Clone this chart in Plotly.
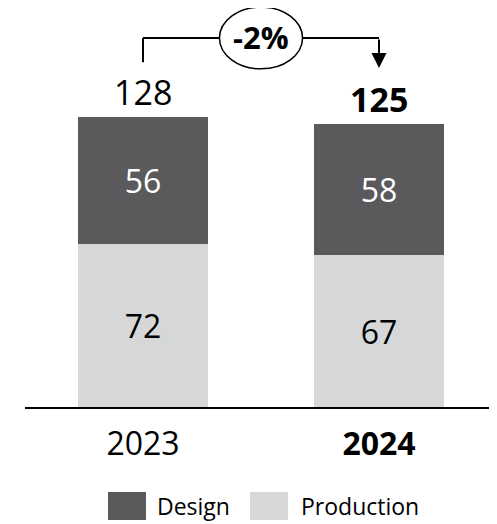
import plotly.graph_objects as go

years = ["2023", "2024"]
year_labels = ["2023", "<b>2024</b>"]
production = [72, 67]
design = [56, 58]
totals = [p + d for p, d in zip(production, design)]
series_names = ["Design", "Production"]

DARK = "#5a5a5c"
LIGHT = "#d6d7d9"
FONT = "Open Sans"

# page has an 8px body margin; figure sized to fit window
OFF = 8
W, H = 497 - OFF, 524 - OFF
ML, MR, MT = 25 - OFF, 0, 0
BASE = 407 - OFF
MB = H - BASE
PX_PER_UNIT = 2.268
plot_h = BASE - MT
y_max = plot_h / PX_PER_UNIT

x = [0, 1]

fig = go.Figure()
fig.add_trace(go.Bar(
    x=x, y=production, name="Production", marker=dict(color=LIGHT, line=dict(width=0)),
    text=[str(v) for v in production], textposition="inside", insidetextanchor="middle",
    textfont=dict(color="black", size=32, family=FONT), constraintext="none",
    showlegend=False,
))
fig.add_trace(go.Bar(
    x=x, y=design, name="Design", marker=dict(color=DARK, line=dict(width=0)),
    text=[str(v) for v in design], textposition="inside", insidetextanchor="middle",
    textfont=dict(color="white", size=32, family=FONT), constraintext="none",
    showlegend=False,
))

# totals
for i, t in enumerate(totals):
    fig.add_annotation(x=x[i], y=t, text=(f"<b>{t}</b>" if i == 1 else str(t)),
                       showarrow=False, yanchor="middle", yshift=25,
                       font=dict(size=34, family=FONT, color="black"))

# change bracket
pct = round((totals[1] - totals[0]) / totals[0] * 100)
top = max(totals) + 34.7
fig.add_shape(type="line", xref="x", yref="y", x0=x[0], x1=x[0], y0=totals[0] + 24, y1=top,
              line=dict(color="black", width=2))
fig.add_shape(type="line", xref="x", yref="y", x0=x[0], x1=x[1], y0=top, y1=top,
              line=dict(color="black", width=2))
fig.add_annotation(x=x[1], y=totals[1] + 24.5, ax=x[1], ay=top, xref="x", yref="y",
                   axref="x", ayref="y", showarrow=True, arrowhead=2, arrowsize=1.5,
                   arrowwidth=2, arrowcolor="black", text="")
mid = (x[0] + x[1]) / 2
fig.add_shape(type="circle", xref="x", yref="y", x0=mid - 0.176, x1=mid + 0.176,
              y0=top - 13.6, y1=top + 13.6, fillcolor="white",
              line=dict(color="black", width=1.5), layer="above")
fig.add_annotation(x=mid, y=top + 0.3, text=f"<b>{pct}%</b>", showarrow=False,
                   font=dict(size=31, family=FONT, color="black"))

# manual legend (positions given in page pixels)
plot_w = W - ML - MR
def px_x(p):
    return (p - OFF - ML) / plot_w
def px_y(p):
    return (MT + plot_h - (p - OFF)) / plot_h

legend_items = [(series_names[0], DARK, 108, 155), (series_names[1], LIGHT, 250, 299)]
for name, col, sx, tx in legend_items:
    fig.add_shape(type="rect", xref="paper", yref="paper", x0=px_x(sx), x1=px_x(sx + 38),
                  y0=px_y(520), y1=px_y(492), fillcolor=col, line=dict(width=0))
    fig.add_annotation(xref="paper", yref="paper", x=px_x(tx), y=px_y(506), text=name,
                       showarrow=False, xanchor="left", yanchor="middle",
                       font=dict(size=23, family=FONT, color="black"))

fig.update_layout(
    width=W, height=H, margin=dict(l=ML, r=MR, t=MT, b=MB),
    barmode="stack", bargap=0.445,
    plot_bgcolor="white", paper_bgcolor="white",
    font=dict(family=FONT, color="black"),
    xaxis=dict(range=[-0.5, 1.5], tickvals=x, ticktext=year_labels, showgrid=False,
               zeroline=False, showline=True, linecolor="black", linewidth=2,
               tickfont=dict(size=32, family=FONT, color="black"), ticks="",
               ticklabelstandoff=8),
    yaxis=dict(range=[0, y_max], visible=False),
    showlegend=False,
)

fig.write_html("out.html")
